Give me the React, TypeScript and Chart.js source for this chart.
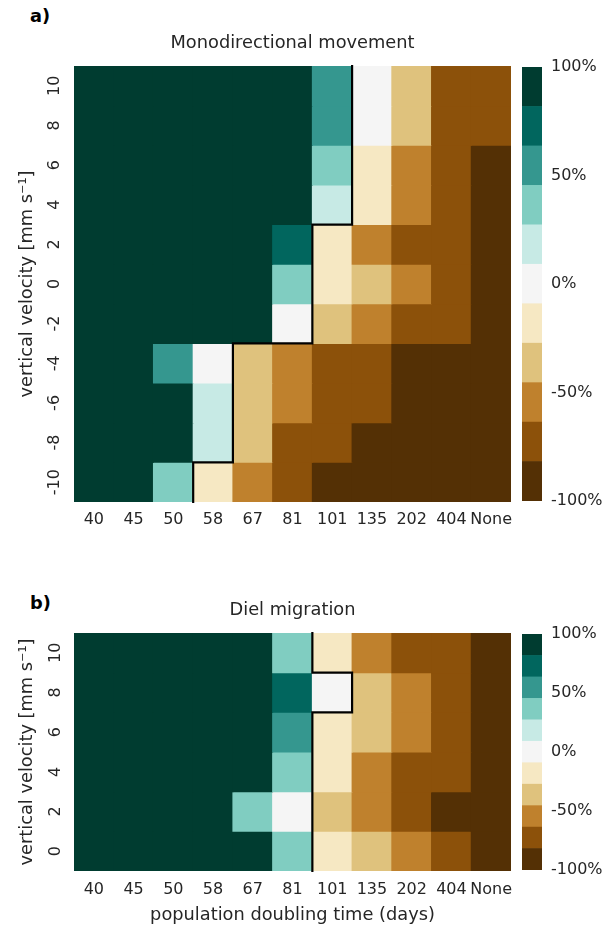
import React, { useEffect, useRef } from 'react';
import { Chart, registerables } from 'chart.js';

Chart.register(...registerables);

// ---------- data ----------
const doublingTimes = ['40', '45', '50', '58', '67', '81', '101', '135', '202', '404', 'None'];

const monoVelocities = [10, 8, 6, 4, 2, 0, -2, -4, -6, -8, -10];
const mono10 = [100, 100, 100, 100, 100, 100, 55, -3, -35, -75, -75];
const mono8 = [100, 100, 100, 100, 100, 100, 55, -3, -35, -75, -75];
const mono6 = [100, 100, 100, 100, 100, 100, 35, -20, -55, -75, -100];
const mono4 = [100, 100, 100, 100, 100, 100, 20, -20, -55, -75, -100];
const mono2 = [100, 100, 100, 100, 100, 75, -20, -55, -75, -75, -100];
const mono0 = [100, 100, 100, 100, 100, 35, -20, -35, -55, -75, -100];
const monoM2 = [100, 100, 100, 100, 100, 3, -35, -55, -75, -75, -100];
const monoM4 = [100, 100, 55, 3, -35, -55, -75, -75, -100, -100, -100];
const monoM6 = [100, 100, 100, 20, -35, -55, -75, -75, -100, -100, -100];
const monoM8 = [100, 100, 100, 20, -35, -75, -75, -100, -100, -100, -100];
const monoM10 = [100, 100, 35, -20, -55, -75, -100, -100, -100, -100, -100];
const monoRows = [mono10, mono8, mono6, mono4, mono2, mono0, monoM2, monoM4, monoM6, monoM8, monoM10];

const dielVelocities = [10, 8, 6, 4, 2, 0];
const diel10 = [100, 100, 100, 100, 100, 35, -20, -55, -75, -75, -100];
const diel8 = [100, 100, 100, 100, 100, 75, 3, -35, -55, -75, -100];
const diel6 = [100, 100, 100, 100, 100, 55, -20, -35, -55, -75, -100];
const diel4 = [100, 100, 100, 100, 100, 35, -20, -55, -75, -75, -100];
const diel2 = [100, 100, 100, 100, 35, 3, -35, -55, -75, -100, -100];
const diel0 = [100, 100, 100, 100, 100, 35, -20, -35, -55, -75, -100];
const dielRows = [diel10, diel8, diel6, diel4, diel2, diel0];

const colorbarTicks = [-100, -50, 0, 50, 100];
const brbg = ['#543005', '#8c510a', '#bf812d', '#dfc27d', '#f6e8c3', '#f5f5f5', '#c7eae5', '#80cdc1', '#35978f', '#01665e', '#003c30'];
const cmapMin = -100;
const cmapMax = 100;

// ---------- styling ----------
const FONT = 'DejaVu Sans';
const TEXT = '#262626';
const TICK_SIZE = 16;
const LABEL_SIZE = 17.8;

Chart.defaults.font.family = FONT;
Chart.defaults.color = TEXT;

function binColor(v: number): string {
  const n = brbg.length;
  const idx = Math.max(0, Math.min(n - 1, Math.floor(((v - cmapMin) / (cmapMax - cmapMin)) * n)));
  return brbg[idx];
}

function makeContour(grid: number[][], rows: number[]) {
  return {
    id: 'zeroContour',
    afterDatasetsDraw(chart: any) {
      const xs = chart.scales.x;
      const ys = chart.scales.y;
      const ctx = chart.ctx;
      const nR = grid.length;
      const nC = grid[0].length;
      const half = Math.abs(rows[0] - rows[1]) / 2;
      const cw = xs.getPixelForValue(1) - xs.getPixelForValue(0);
      const xL = (c: number) => xs.getPixelForValue(c) - cw / 2;
      const xR = (c: number) => xs.getPixelForValue(c) + cw / 2;
      const yT = (r: number) => ys.getPixelForValue(rows[r] + half);
      const yB = (r: number) => ys.getPixelForValue(rows[r] - half);
      const pos = (v: number) => v > 0;
      ctx.save();
      ctx.beginPath();
      for (let r = 0; r < nR; r++) {
        for (let c = 0; c < nC - 1; c++) {
          if (pos(grid[r][c]) !== pos(grid[r][c + 1])) {
            ctx.moveTo(xR(c), yT(r));
            ctx.lineTo(xR(c), yB(r));
          }
        }
      }
      for (let r = 0; r < nR - 1; r++) {
        for (let c = 0; c < nC; c++) {
          if (pos(grid[r][c]) !== pos(grid[r + 1][c])) {
            ctx.moveTo(xL(c), yB(r));
            ctx.lineTo(xR(c), yB(r));
          }
        }
      }
      ctx.lineWidth = 2.2;
      ctx.strokeStyle = '#000000';
      ctx.lineCap = 'square';
      ctx.stroke();
      ctx.restore();
    },
  };
}

interface HeatOpts {
  rows: number[];
  grid: number[][];
  title: string;
  titlePadTop: number;
  titlePadBottom: number;
  xHeight: number;
  xTickPad: number;
  yTickPad: number;
  xTitle?: string;
  xTitlePadBottom?: number;
}

function heatmapConfig(o: HeatOpts): any {
  const half = Math.abs(o.rows[0] - o.rows[1]) / 2;
  const datasets = o.rows.map((v, r) => ({
    label: String(v),
    data: o.grid[r].map(() => [v - half, v + half]),
    backgroundColor: o.grid[r].map(binColor),
    borderWidth: 0,
    inflateAmount: 0.5,
    barPercentage: 1,
    categoryPercentage: 1,
    grouped: false,
  }));
  return {
    type: 'bar',
    data: { labels: doublingTimes, datasets },
    plugins: [makeContour(o.grid, o.rows)],
    options: {
      responsive: false,
      maintainAspectRatio: false,
      animation: false,
      events: [],
      layout: { padding: { left: 0, right: 49, top: 0, bottom: 0 } },
      plugins: {
        legend: { display: false },
        tooltip: { enabled: false },
        title: {
          display: true,
          text: o.title,
          fullSize: false,
          color: TEXT,
          font: { family: FONT, size: LABEL_SIZE, weight: 'normal' },
          padding: { top: o.titlePadTop, bottom: o.titlePadBottom },
        },
      },
      scales: {
        x: {
          type: 'category',
          offset: true,
          grid: { display: false, drawTicks: false },
          border: { display: false },
          ticks: {
            autoSkip: false,
            minRotation: 0,
            maxRotation: 0,
            padding: o.xTickPad,
            color: TEXT,
            font: { family: FONT, size: TICK_SIZE },
          },
          title: o.xTitle
            ? {
                display: true,
                text: o.xTitle,
                color: TEXT,
                font: { family: FONT, size: LABEL_SIZE },
                padding: { top: 0, bottom: o.xTitlePadBottom ?? 0 },
              }
            : { display: false },
          afterFit: (s: any) => {
            s.height = o.xHeight;
          },
        },
        y: {
          type: 'linear',
          min: o.rows[o.rows.length - 1] - half,
          max: o.rows[0] + half,
          grid: { display: false, drawTicks: false },
          border: { display: false },
          afterBuildTicks: (s: any) => {
            s.ticks = o.rows.map((v) => ({ value: v }));
          },
          ticks: {
            autoSkip: false,
            minRotation: 90,
            maxRotation: 90,
            crossAlign: 'center',
            padding: o.yTickPad,
            color: TEXT,
            font: { family: FONT, size: TICK_SIZE },
          },
          title: {
            display: true,
            text: 'vertical velocity [mm s⁻¹]',
            color: TEXT,
            font: { family: FONT, size: LABEL_SIZE },
            padding: { top: 16.5, bottom: 0 },
          },
          afterFit: (s: any) => {
            s.width = 74;
          },
        },
      },
    },
  };
}

function colorbarConfig(): any {
  const n = brbg.length;
  const bounds = brbg.map((_, i) => cmapMin + (i * (cmapMax - cmapMin)) / n).concat([cmapMax]);
  const datasets = brbg.map((col, i) => ({
    label: col,
    data: [[bounds[i], bounds[i + 1]]],
    backgroundColor: col,
    borderWidth: 0,
    barPercentage: 1,
    categoryPercentage: 1,
    grouped: false,
  }));
  return {
    type: 'bar',
    data: { labels: [''], datasets },
    options: {
      responsive: false,
      maintainAspectRatio: false,
      animation: false,
      events: [],
      layout: { padding: { left: 0, right: 0, top: 30, bottom: 30 } },
      plugins: { legend: { display: false }, tooltip: { enabled: false } },
      scales: {
        x: { display: false },
        y: {
          type: 'linear',
          position: 'right',
          min: cmapMin,
          max: cmapMax,
          grid: { display: false, drawTicks: false },
          border: { display: false },
          afterBuildTicks: (s: any) => {
            s.ticks = colorbarTicks.map((v) => ({ value: v }));
          },
          ticks: {
            padding: 9,
            color: TEXT,
            font: { family: FONT, size: TICK_SIZE },
            callback: (v: any) => `${v}%`,
          },
          afterFit: (s: any) => {
            s.width = 62;
          },
        },
      },
    },
  };
}

function ChartBox(props: { left: number; top: number; width: number; height: number; make: () => any }) {
  const ref = useRef<HTMLCanvasElement>(null);
  useEffect(() => {
    const chart = new Chart(ref.current as HTMLCanvasElement, props.make());
    return () => chart.destroy();
  }, []);
  return (
    <canvas
      ref={ref}
      width={props.width}
      height={props.height}
      style={{ position: 'absolute', left: props.left, top: props.top, width: props.width, height: props.height }}
    />
  );
}

const panelLabel: React.CSSProperties = {
  position: 'absolute',
  left: 30,
  fontFamily: FONT,
  fontWeight: 'bold',
  fontSize: LABEL_SIZE,
  lineHeight: '21px',
  color: '#000',
  margin: 0,
};

export default function App() {
  return (
    <div style={{ position: 'absolute', left: 0, top: 0, width: 604, height: 929, background: '#fff', overflow: 'hidden' }}>
      <div style={{ ...panelLabel, top: 5 }}>a)</div>
      <div style={{ ...panelLabel, top: 592 }}>b)</div>
      <ChartBox
        left={0}
        top={0}
        width={560}
        height={545}
        make={() =>
          heatmapConfig({
            rows: monoVelocities,
            grid: monoRows,
            title: 'Monodirectional movement',
            titlePadTop: 32.8,
            titlePadBottom: 11.84,
            xHeight: 43,
            xTickPad: 8.4,
            yTickPad: 6.4,
          })
        }
      />
      <ChartBox left={522} top={37} width={82} height={494} make={colorbarConfig} />
      <ChartBox
        left={0}
        top={580}
        width={560}
        height={349}
        make={() =>
          heatmapConfig({
            rows: dielVelocities,
            grid: dielRows,
            title: 'Diel migration',
            titlePadTop: 19.8,
            titlePadBottom: 11.84,
            xHeight: 58,
            xTickPad: 9.4,
            yTickPad: 8.3,
            xTitle: 'population doubling time (days)',
            xTitlePadBottom: 2.8,
          })
        }
      />
      <ChartBox left={522} top={604} width={82} height={296} make={colorbarConfig} />
    </div>
  );
}
